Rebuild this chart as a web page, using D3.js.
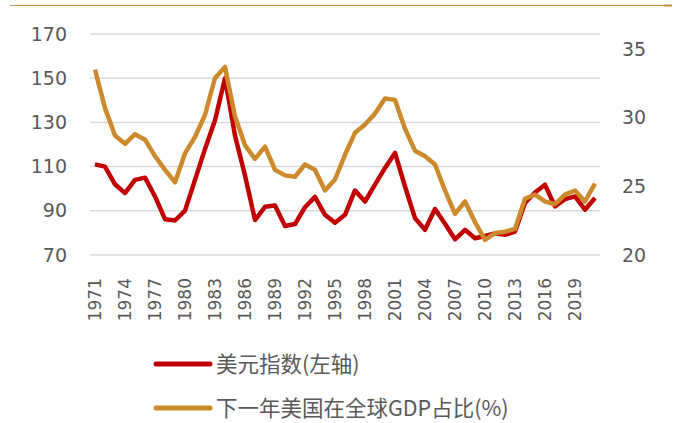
<!DOCTYPE html>
<html>
<head>
<meta charset="utf-8">
<script src="https://cdn.jsdelivr.net/npm/d3@7"></script>
<style>
  body { margin: 0; background: #fff; }
  svg { display: block; font-family: "DejaVu Sans", sans-serif; }
</style>
</head>
<body>
<div id="chart"></div>
<script>
// years 1971..2021
const years = d3.range(1971, 2022);

// 美元指数 (left axis)
const dollarIndex = [
  111, 110, 102, 98, 104, 105, 96.5, 86.2, 85.6, 90.1,
  104, 118, 131, 150, 124, 106, 85.8, 91.8, 92.4, 83.1,
  84, 91.6, 96.3, 88.2, 84.6, 88.2, 99.2, 94.2, 101.8, 109.4,
  116.2, 101, 86.7, 81.4, 90.8, 84.1, 77.1, 81.4, 77.6, 78.6,
  79.8, 79.1, 80.6, 93.5, 98.3, 101.8, 92, 95.3, 96.5, 90.5,
  95.8
];

// 下一年美国在全球GDP占比 (right axis, %)
const gdpShare = [
  33.5, 30.7, 28.7, 28.1, 28.8, 28.4, 27.2, 26.2, 25.3, 27.4,
  28.6, 30.2, 32.9, 33.7, 30.1, 28.0, 27.0, 27.9, 26.2, 25.8,
  25.7, 26.6, 26.2, 24.7, 25.5, 27.3, 28.9, 29.5, 30.3, 31.4,
  31.3, 29.2, 27.6, 27.2, 26.6, 24.7, 23.0, 23.9, 22.4, 21.1,
  21.6, 21.7, 21.9, 24.1, 24.4, 23.9, 23.7, 24.4, 24.7, 23.9,
  25.2
];

const leftTicks = [70, 90, 110, 130, 150, 170];
const rightTicks = [20, 25, 30, 35];
const xTickYears = d3.range(1971, 2022, 3);

const seriesNames = ['美元指数(左轴)', '下一年美国在全球GDP占比(%)'];
const seriesColors = ['#c00000', '#cc8a2c'];

const width = 679, height = 423;
const plot = { left: 90, right: 600, top: 34, bottom: 255 };

const svg = d3.select('#chart').append('svg')
  .attr('width', width)
  .attr('height', height);

// thin rule at the very top
svg.append('line')
  .attr('x1', 10).attr('x2', 664)
  .attr('y1', 5.5).attr('y2', 5.5)
  .attr('stroke', '#c8924a').attr('stroke-width', 1);
svg.append('rect')
  .attr('x', 664).attr('y', 4.5).attr('width', 8).attr('height', 2)
  .attr('fill', '#c8883a');

const x = d3.scaleBand()
  .domain(years)
  .range([plot.left, plot.right])
  .paddingInner(0).paddingOuter(0);
const xc = d => x(d) + x.bandwidth() / 2;

const yL = d3.scaleLinear().domain([70, 170]).range([plot.bottom, plot.top]);
const yR = d3.scaleLinear().domain([20, 36.1]).range([plot.bottom, plot.top]);

// gridlines
svg.append('g')
  .selectAll('line')
  .data(leftTicks)
  .enter().append('line')
  .attr('x1', plot.left).attr('x2', plot.right)
  .attr('y1', d => yL(d)).attr('y2', d => yL(d))
  .attr('stroke', '#d9d9d9').attr('stroke-width', 1.5);

// left axis
const axisL = svg.append('g')
  .attr('transform', `translate(${plot.left - 23},0)`)
  .call(d3.axisLeft(yL).tickValues(leftTicks).tickSize(0).tickPadding(0));
axisL.select('.domain').remove();
axisL.selectAll('text')
  .attr('font-family', '"DejaVu Sans", sans-serif')
  .attr('font-size', 19)
  .attr('fill', '#595959');

// right axis
const axisR = svg.append('g')
  .attr('transform', `translate(${plot.right + 22},0)`)
  .call(d3.axisRight(yR).tickValues(rightTicks).tickSize(0).tickPadding(0));
axisR.select('.domain').remove();
axisR.selectAll('text')
  .attr('font-family', '"DejaVu Sans", sans-serif')
  .attr('font-size', 19)
  .attr('fill', '#595959');

// x axis labels, rotated
const axisX = svg.append('g')
  .attr('transform', `translate(0,${plot.bottom})`)
  .call(d3.axisBottom(x).tickValues(xTickYears).tickSize(0).tickPadding(0));
axisX.select('.domain').remove();
axisX.selectAll('text')
  .attr('font-family', '"DejaVu Sans", sans-serif')
  .attr('font-size', 17)
  .attr('fill', '#595959')
  .attr('text-anchor', 'end')
  .attr('dy', '0.36em')
  .attr('transform', 'translate(0,23) rotate(-90)')
  .attr('x', 0).attr('y', 0);

// lines
const lineL = d3.line().x((d, i) => xc(years[i])).y(d => yL(d));
const lineR = d3.line().x((d, i) => xc(years[i])).y(d => yR(d));

svg.append('path')
  .datum(dollarIndex)
  .attr('d', lineL)
  .attr('fill', 'none')
  .attr('stroke', seriesColors[0])
  .attr('stroke-width', 4.5)
  .attr('stroke-linejoin', 'round');

svg.append('path')
  .datum(gdpShare)
  .attr('d', lineR)
  .attr('fill', 'none')
  .attr('stroke', seriesColors[1])
  .attr('stroke-width', 4.5)
  .attr('stroke-linejoin', 'round');

// legend
const legend = svg.append('g')
  .selectAll('g')
  .data(seriesNames)
  .enter().append('g')
  .attr('transform', (d, i) => `translate(156,${364 + i * 44})`);

legend.append('line')
  .attr('x1', 0).attr('x2', 54)
  .attr('y1', 0).attr('y2', 0)
  .attr('stroke', (d, i) => seriesColors[i])
  .attr('stroke-width', 5)
  .attr('stroke-linecap', 'round');

legend.append('text')
  .attr('x', 60)
  .attr('dy', '0.36em')
  .attr('font-family', '"Noto Sans CJK SC", "Noto Sans", sans-serif')
  .attr('font-size', 21.5)
  .attr('fill', '#595959')
  .text(d => d);
</script>
</body>
</html>
